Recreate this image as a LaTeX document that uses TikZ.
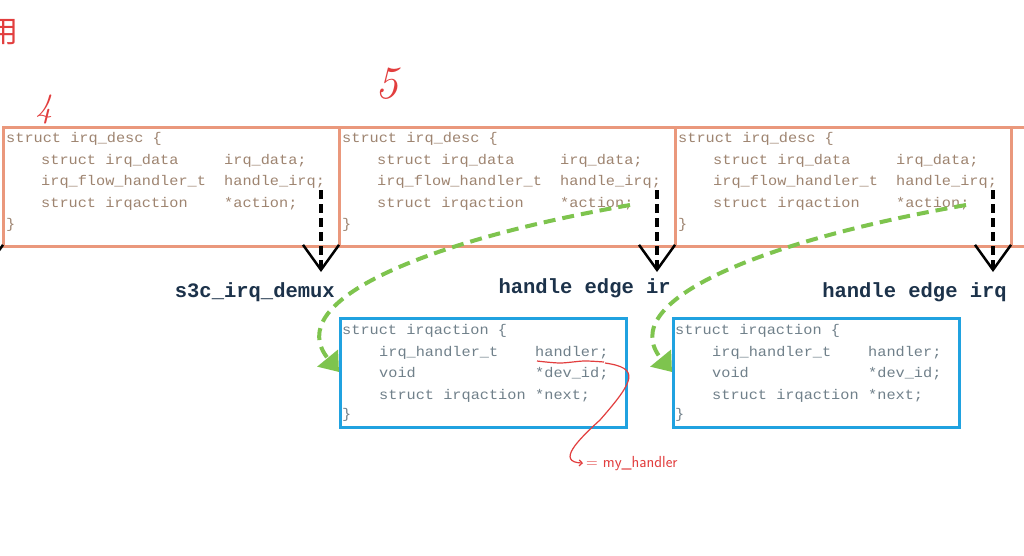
\documentclass[tikz,border=0pt]{standalone}
\usepackage{fontspec}
\usetikzlibrary{arrows.meta}
\newfontfamily\codeFont[FakeStretch=1.09]{Liberation Mono}
\newfontfamily\labelFont{Liberation Mono}
\newfontfamily\cjkFont{Noto Sans CJK SC}
\definecolor{descColor}{RGB}{234,152,124}
\definecolor{actionColor}{RGB}{32,162,224}
\definecolor{descTextColor}{RGB}{158,132,112}
\definecolor{actionTextColor}{RGB}{112,128,138}
\definecolor{labelColor}{RGB}{28,50,74}
\definecolor{linkColor}{RGB}{126,196,78}
\definecolor{noteColor}{RGB}{226,62,62}
\tikzstyle{canvas} = [x = 1pt, y = -1pt]
\tikzstyle{descLine} = [draw=descColor, line width=3pt]
\tikzstyle{actionLine} = [draw=actionColor, line width=3pt]
\tikzstyle{descText} = [anchor=base west, inner sep=0, text=descTextColor, font=\codeFont\fontsize{14}{14}\selectfont]
\tikzstyle{actionText} = [descText, text=actionTextColor]
\tikzstyle{handleLink} = [line width=3.5pt, dash pattern=on 9pt off 5pt, -{Straight Barb[length=25pt, width=36pt, line width=2.5pt]}]
\tikzstyle{handleLabel} = [anchor=base east, inner sep=0, text=labelColor, font=\labelFont\bfseries\fontsize{20.5}{20.5}\selectfont]
\tikzstyle{actionLink} = [draw=linkColor, line width=4pt, dash pattern=on 12pt off 7pt, -{Triangle[length=18pt, width=26pt, fill=linkColor]}]
\tikzstyle{noteLine} = [draw=noteColor, line width=1.2pt]
\tikzstyle{noteText} = [inner sep=0, text=noteColor, font=\sffamily]
\newcommand{\descBox}[2]{
  \draw [descLine] (#2, 127) rectangle +(336, 119);
  \node [descText] (#1-head) at (#2 + 3, 142) {struct irq\_desc \{};
  \node [descText] (#1-data) at (#2 + 38, 164) {struct irq\_data};
  \node [descText] (#1-dataName) at (#2 + 221, 164) {irq\_data;};
  \node [descText] (#1-flow) at (#2 + 38, 185) {irq\_flow\_handler\_t};
  \node [descText] (#1-flowName) at (#2 + 221, 185) {handle\_irq;};
  \node [descText] (#1-action) at (#2 + 38, 207) {struct irqaction};
  \node [descText] (#1-actionName) at (#2 + 221, 207) {*action;};
  \node [descText] (#1-tail) at (#2 + 3, 228) {\}};
  \coordinate (#1-handle) at (#2 + 318, 190);
  \coordinate (#1-link) at (#2 + 291, 205);
}
\newcommand{\actionBox}[2]{
  \draw [actionLine] (#2, 318) rectangle +(286, 109);
  \node [actionText] (#1-head) at (#2 + 2, 334) {struct irqaction \{};
  \node [actionText] (#1-type) at (#2 + 39, 356) {irq\_handler\_t};
  \node [actionText] (#1-handler) at (#2 + 195, 356) {handler;};
  \node [actionText] (#1-void) at (#2 + 39, 377) {void};
  \node [actionText] (#1-devId) at (#2 + 195, 377) {*dev\_id;};
  \node [actionText] (#1-next) at (#2 + 39, 399) {struct irqaction};
  \node [actionText] (#1-nextName) at (#2 + 195, 399) {*next;};
  \node [actionText] (#1-tail) at (#2 + 2, 418) {\}};
  \coordinate (#1-in) at (#2 - 1, 372);
}
\newcommand{\handleArrow}[4]{
  \draw [handleLink] (#1-handle) -- ++(0, 82) coordinate (#1-tip);
  \node [handleLabel] (#1-label) at (#2 + 332, #3) {#4};
}
\begin{document}
\begin{tikzpicture}[canvas]
    \path [fill=white, use as bounding box] (0, 0) rectangle (1024, 555);
    % irq_desc row
    \descBox{desc1}{3}
    \descBox{desc2}{339}
    \descBox{desc3}{675}
    \draw [descLine] (1011, 127) rectangle +(336, 119);
    \coordinate (desc0-handle) at (-15, 190);
    \draw [handleLink] (desc0-handle) -- ++(0, 82);
    \handleArrow{desc1}{3}{297}{s3c\_irq\_demux}
    \handleArrow{desc2}{339}{293}{handle edge ir}
    \handleArrow{desc3}{675}{297}{handle edge irq}
    % irqaction row
    \actionBox{action1}{340}
    \actionBox{action2}{673}
    \draw [actionLink] (desc2-link) .. controls +(-200, 35) and +(-59, -72) .. (action1-in);
    \draw [actionLink] (desc3-link) .. controls +(-200, 35) and +(-59, -72) .. (action2-in);
    % red notes
    \node [noteText, font=\cjkFont\fontsize{30}{30}\selectfont] (noteUse) at (4, 32) {用};
    \node [noteText, anchor=base, font=\itshape\fontsize{34}{34}\selectfont] (noteFour) at (44, 117) {4};
    \node [noteText, anchor=base, font=\itshape\fontsize{46}{46}\selectfont] (noteFive) at (387, 98) {5};
    \draw [noteLine] plot [smooth] coordinates {(537, 361) (560, 363) (584, 361) (604, 362)};
    \coordinate (handlerMark) at (605, 363);
    \node [noteText, anchor=base west, font=\sffamily\fontsize{16}{16}\selectfont] (myHandler) at (586, 467) {= my\_handler};
    \draw [noteLine, -{Straight Barb[length=3pt, width=6pt]}] (handlerMark) .. controls +(35, 5) and +(35, -40) .. (600, 420) .. controls (578, 440) and (556, 462) .. ([xshift=-3pt]myHandler.west);
\end{tikzpicture}
\end{document}
